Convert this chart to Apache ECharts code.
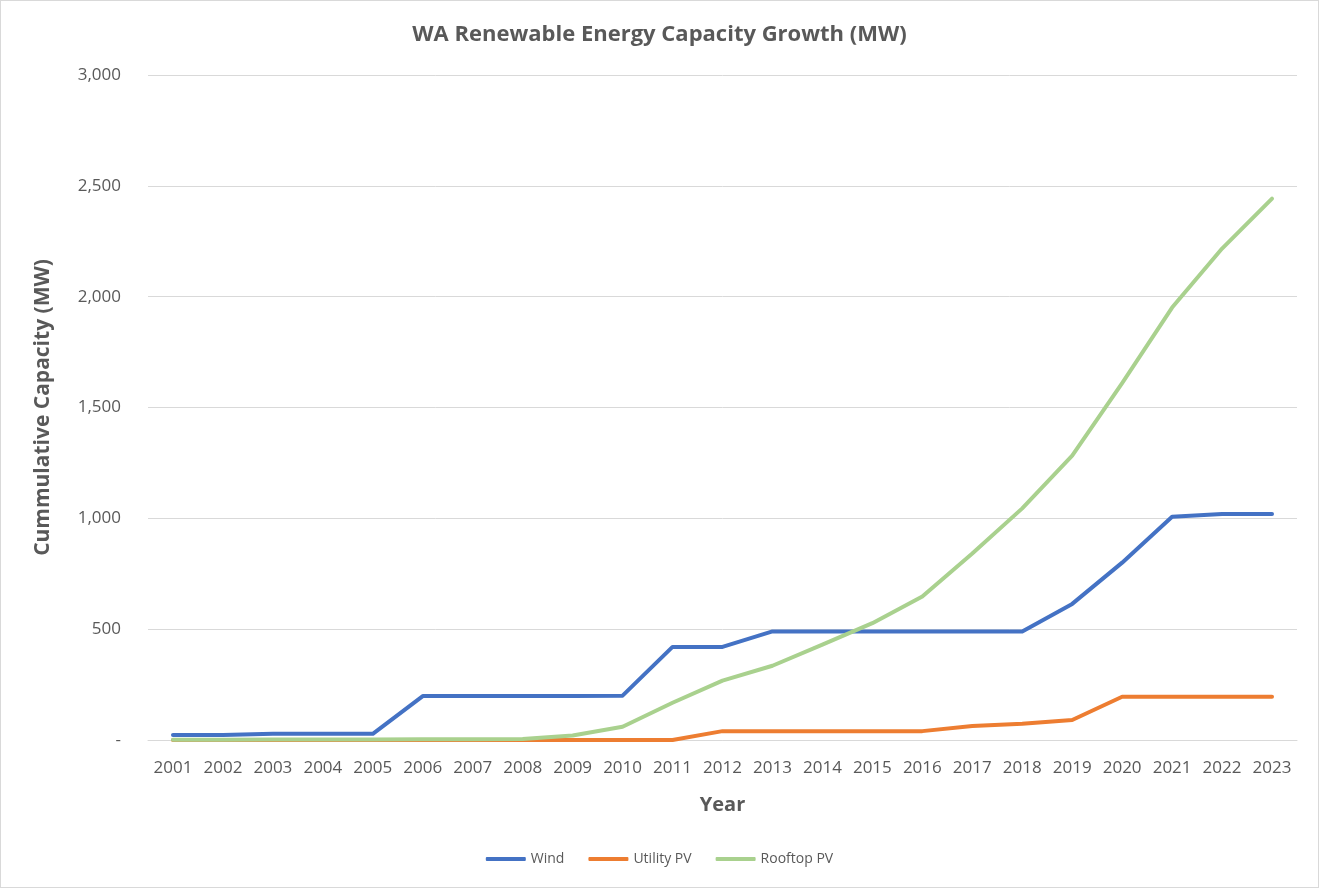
<!DOCTYPE html>
<html>
<head>
<meta charset="utf-8">
<script src="https://cdn.jsdelivr.net/npm/echarts@6/dist/echarts.min.js"></script>
<style>
	html, body { margin: 0; padding: 0; background: #fff; }
	#chart { width: 1319px; height: 888px; box-sizing: border-box; border: 1px solid #d9d9d9; }
</style>
</head>
<body>
<div id="chart"></div>
<script>
var years = ['2001','2002','2003','2004','2005','2006','2007','2008','2009','2010','2011','2012',
	'2013','2014','2015','2016','2017','2018','2019','2020','2021','2022','2023'];
var wind = [22, 22, 28, 28, 28, 198, 198, 198, 198, 200, 420, 420,
	490, 490, 490, 490, 490, 490, 614, 800, 1007, 1019, 1019];
var utilityPV = [0, 0, 0, 0, 0, 0, 0, 0, 0, 0, 0, 40,
	40, 40, 40, 40, 63, 73, 90, 195, 195, 195, 195];
var rooftopPV = [1, 1, 2, 2, 2, 3, 3, 5, 20, 60, 168, 268,
	335, 430, 527, 647, 841, 1045, 1283, 1610, 1951, 2217, 2442];

var txt = '#595959';
var font = 'Open Sans';

var ec = echarts.init(document.getElementById('chart'));
var option = {
	animation: false,
	textStyle: { fontFamily: font },
	color: ['#4472C4', '#ED7D31', '#A9D18E'],
	title: {
		text: 'WA Renewable Energy Capacity Growth (MW)',
		left: 'center',
		top: 18,
		textStyle: { color: txt, fontSize: 22, fontWeight: 'bold', fontFamily: font }
	},
	legend: {
		bottom: 16,
		left: 'center',
		icon: 'roundRect',
		itemWidth: 40,
		itemHeight: 4,
		itemGap: 24,
		textStyle: { color: txt, fontSize: 14, fontFamily: font },
		data: ['Wind', 'Utility PV', 'Rooftop PV']
	},
	grid: { left: 147, right: 21, top: 74, bottom: 147 },
	xAxis: {
		type: 'category',
		data: years,
		boundaryGap: true,
		name: 'Year',
		nameLocation: 'middle',
		nameGap: 55,
		nameTextStyle: { color: txt, fontSize: 20, fontWeight: 'bold' },
		axisLine: { lineStyle: { color: '#d9d9d9', width: 1 } },
		axisTick: { show: false },
		axisLabel: { color: txt, fontSize: 17, margin: 20, interval: 0 }
	},
	yAxis: {
		type: 'value',
		min: 0,
		max: 3000,
		interval: 500,
		name: 'Cummulative Capacity (MW)',
		nameLocation: 'middle',
		nameGap: 94,
		nameTextStyle: { color: txt, fontSize: 21, fontWeight: 'bold' },
		axisLine: { show: false },
		axisTick: { show: false },
		splitLine: { lineStyle: { color: '#d9d9d9', width: 1 } },
		axisLabel: {
			color: txt, fontSize: 17, margin: 27,
			formatter: function(v) {
				if (v === 0) return '-';
				return v.toLocaleString('en-US');
			}
		}
	},
	series: [
		{ name: 'Wind', type: 'line', data: wind, symbol: 'none',
			lineStyle: { width: 4, cap: 'round', join: 'round' } },
		{ name: 'Utility PV', type: 'line', data: utilityPV, symbol: 'none',
			lineStyle: { width: 4, cap: 'round', join: 'round' } },
		{ name: 'Rooftop PV', type: 'line', data: rooftopPV, symbol: 'none',
			lineStyle: { width: 4, cap: 'round', join: 'round' } }
	]
};
ec.setOption(option);
</script>
</body>
</html>
